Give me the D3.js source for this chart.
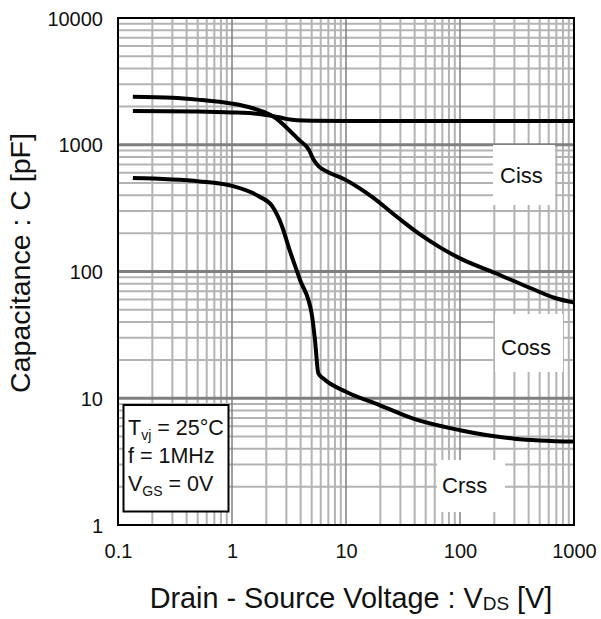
<!DOCTYPE html>
<html><head><meta charset="utf-8">
<script src="https://cdn.jsdelivr.net/npm/d3@7"></script>
<style>
html,body{margin:0;padding:0;background:#fff;}
text{font-family:"Liberation Sans",Arial,sans-serif;fill:#111;}
</style></head>
<body><svg id="c" width="601" height="619"></svg>
<script>
// ---- data ----
const xTickValues = [0.1, 1, 10, 100, 1000];
const xTickLabels = ["0.1", "1", "10", "100", "1000"];
const yTickValues = [1, 10, 100, 1000, 10000];
const yTickLabels = ["1", "10", "100", "1000", "10000"];

const cissV = [0.135, 0.5, 1, 1.5, 2, 2.5, 3, 3.7, 5, 10, 100, 1000];
const cissC = [1850, 1830, 1800, 1770, 1720, 1660, 1600, 1560, 1545, 1540, 1540, 1540];

const cossV = [0.135, 0.3, 0.5, 1, 1.5, 2, 2.42, 3, 3.86, 4.72, 5.2, 5.77, 6.78, 9.86, 16.7, 28.3, 44.6, 66.8, 100, 203, 403, 681, 1000];
const cossC = [2390, 2350, 2270, 2110, 1950, 1780, 1625, 1370, 1095, 913, 761, 674, 616, 529, 391, 268, 196, 155, 127, 97.3, 74.8, 61.8, 56.9];

const crssV = [0.135, 0.52, 1, 1.73, 2.26, 2.73, 3.23, 3.94, 5.0, 5.35, 5.72, 6.33, 10.1, 19.9, 38.9, 100, 300, 1000];
const crssC = [546, 514, 474, 391, 326, 231, 144, 86.5, 46.4, 28.6, 15.7, 14.3, 11.2, 8.8, 6.9, 5.6, 4.8, 4.55];

const seriesNames = ["Ciss", "Coss", "Crss"];

// ---- layout ----
const L = 118, R = 574, T = 18, B = 525;
const svg = d3.select("#c");
const x = d3.scaleLog().domain([0.1, 1000]).range([L, R]);
const y = d3.scaleLog().domain([1, 10000]).range([B, T]);

// grid
const minorX = [], minorY = [];
[0.1, 1, 10, 100].forEach(d => { for (let k = 2; k <= 9; k++) minorX.push(d * k); });
[1, 10, 100, 1000].forEach(d => { for (let k = 2; k <= 9; k++) minorY.push(d * k); });
const g = svg.append("g");
g.selectAll(".mx").data(minorX).enter().append("line")
  .attr("x1", d => x(d)).attr("x2", d => x(d)).attr("y1", T).attr("y2", B)
  .attr("stroke", "#b3b3b3").attr("stroke-width", 2);
g.selectAll(".my").data(minorY).enter().append("line")
  .attr("y1", d => y(d)).attr("y2", d => y(d)).attr("x1", L).attr("x2", R)
  .attr("stroke", "#b3b3b3").attr("stroke-width", 2);
g.selectAll(".Mx").data([1, 10, 100]).enter().append("line")
  .attr("x1", d => x(d)).attr("x2", d => x(d)).attr("y1", T).attr("y2", B)
  .attr("stroke", "#7f7f7f").attr("stroke-width", 1.5);
g.selectAll(".My").data([10, 100, 1000]).enter().append("line")
  .attr("y1", d => y(d)).attr("y2", d => y(d)).attr("x1", L).attr("x2", R)
  .attr("stroke", "#7f7f7f").attr("stroke-width", 3);

// series label boxes (under the curves)
const lbl = [
  {n: seriesNames[0], bx: 493, by: 145, bw: 62, bh: 60, tx: 500, ty: 183},
  {n: seriesNames[1], bx: 495, by: 314, bw: 68, bh: 58, tx: 501, ty: 355},
  {n: seriesNames[2], bx: 437, by: 460, bw: 68, bh: 52, tx: 442, ty: 493}
];
const lg = svg.append("g");
lbl.forEach(o => {
  lg.append("rect").attr("x", o.bx).attr("y", o.by).attr("width", o.bw).attr("height", o.bh).attr("fill", "#fff");
  lg.append("text").attr("x", o.tx).attr("y", o.ty).attr("font-size", 22).text(o.n);
});

// curves
const line = d3.line().x(d => x(d[0])).y(d => y(d[1])).curve(d3.curveMonotoneX);
const series = [
  cissV.map((v, i) => [v, cissC[i]]),
  cossV.map((v, i) => [v, cossC[i]]),
  crssV.map((v, i) => [v, crssC[i]])
];
svg.append("g").selectAll("path").data(series).enter().append("path")
  .attr("d", line).attr("fill", "none").attr("stroke", "#000").attr("stroke-width", 4)
  .attr("stroke-linejoin", "round");

// frame
svg.append("rect").attr("x", L).attr("y", T).attr("width", R - L).attr("height", B - T)
  .attr("fill", "none").attr("stroke", "#000").attr("stroke-width", 2);

// condition box
svg.append("rect").attr("x", 123.5).attr("y", 405).attr("width", 105).attr("height", 106.5)
  .attr("fill", "#fff").attr("stroke", "#000").attr("stroke-width", 2);
const cond = svg.append("g").attr("font-size", 21.5);
const t1 = cond.append("text").attr("x", 128).attr("y", 435);
t1.append("tspan").text("T");
t1.append("tspan").attr("font-size", 14).attr("dy", 5).text("vj");
t1.append("tspan").attr("dy", -5).text(" = 25°C");
cond.append("text").attr("x", 128).attr("y", 463).text("f = 1MHz");
const t3 = cond.append("text").attr("x", 128).attr("y", 491);
t3.append("tspan").text("V");
t3.append("tspan").attr("font-size", 14).attr("dy", 5).text("GS");
t3.append("tspan").attr("dy", -5).text(" = 0V");

// axes ticks
const ax = d3.axisBottom(x).tickValues(xTickValues).tickFormat((d, i) => xTickLabels[i]).tickSize(0).tickPadding(0);
const gx = svg.append("g").attr("transform", `translate(0,${B})`).call(ax);
gx.select(".domain").remove();
gx.selectAll("text").attr("font-size", 20).attr("dy", null).attr("y", 33)
  .style("font-family", '"Liberation Sans",Arial,sans-serif').attr("fill", "#111");
const ay = d3.axisLeft(y).tickValues(yTickValues).tickFormat((d, i) => yTickLabels[i]).tickSize(0).tickPadding(15);
const gy = svg.append("g").attr("transform", `translate(${L},0)`).call(ay);
gy.select(".domain").remove();
gy.selectAll("text").attr("font-size", 20).attr("dy", "0.35em")
  .style("font-family", '"Liberation Sans",Arial,sans-serif').attr("fill", "#111");

// axis titles
const xt = svg.append("text").attr("x", 351).attr("y", 608).attr("text-anchor", "middle").attr("font-size", 28.8);
xt.append("tspan").text("Drain - Source Voltage : V");
xt.append("tspan").attr("font-size", 19).attr("dy", 2).text("DS");
xt.append("tspan").attr("dy", -2).text(" [V]");
svg.append("text").attr("transform", "translate(30,263) rotate(-90)").attr("text-anchor", "middle")
  .attr("font-size", 28.5).text("Capacitance : C [pF]");
</script></body></html>
